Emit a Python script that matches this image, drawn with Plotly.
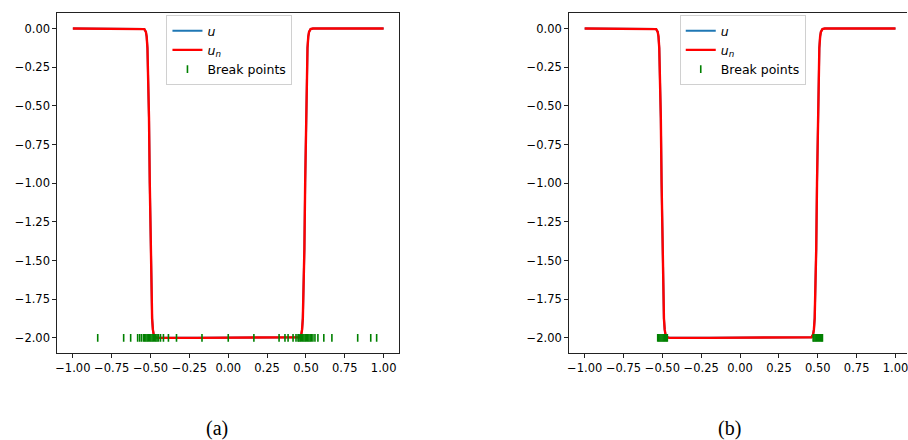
import plotly.graph_objects as go

# Sample grid and the exact solution u (steep double step between -0.5 and 0.5)
x_grid = [-1.0, -0.8, -0.6, -0.555, -0.54, -0.53, -0.525, -0.52, -0.515, -0.51,
          -0.505, -0.50, -0.495, -0.49, -0.485, -0.48, -0.47, -0.455, -0.2, 0.0,
          0.2, 0.445, 0.46, 0.47, 0.475, 0.48, 0.485, 0.49, 0.495, 0.50, 0.505,
          0.51, 0.515, 0.52, 0.53, 0.545, 0.6, 0.8, 1.0]
u_vals = [0.0, 0.0, 0.0, 0.0, -0.004, -0.022, -0.053, -0.126, -0.284, -0.578,
          -1.000, -1.422, -1.716, -1.874, -1.947, -1.978, -1.996, -2.0, -2.0, -2.0,
          -2.0, -2.0, -1.996, -1.978, -1.947, -1.874, -1.716, -1.422, -1.000, -0.578, -0.284,
          -0.126, -0.053, -0.022, -0.004, 0.0, 0.0, 0.0, 0.0]
# Network approximation u_n (indistinguishable from u at this scale)
un_vals = [0.0, 0.0, 0.0, 0.0, -0.004, -0.022, -0.053, -0.126, -0.284, -0.578,
           -1.000, -1.422, -1.716, -1.874, -1.947, -1.978, -1.996, -2.0, -2.0, -2.0,
           -2.0, -2.0, -1.996, -1.978, -1.947, -1.874, -1.716, -1.422, -1.000, -0.578, -0.284,
           -0.126, -0.053, -0.022, -0.004, 0.0, 0.0, 0.0, 0.0]

# Break points of the piecewise-linear network, panel (a)
breaks_a = [-0.840, -0.673, -0.628, -0.583, -0.570, -0.558,
            -0.545, -0.538, -0.530, -0.522, -0.514, -0.506, -0.498, -0.490,
            -0.482, -0.474, -0.466, -0.458, -0.449,
            -0.436, -0.417, -0.385, -0.333, -0.169, 0.0, 0.165, 0.327,
            0.365, 0.385, 0.417, 0.436, 0.449,
            0.455, 0.463, 0.471, 0.479, 0.487, 0.495, 0.503, 0.511, 0.519,
            0.527, 0.535, 0.545,
            0.558, 0.577, 0.615, 0.667, 0.833, 0.917, 0.955]
# Break points, panel (b): clustered at the two jumps
breaks_b = [-0.530, -0.523, -0.516, -0.509, -0.502, -0.495, -0.488, -0.481,
            -0.474, -0.468,
            0.470, 0.476, 0.483, 0.490, 0.497, 0.504, 0.511, 0.518, 0.525, 0.530]

x_ticks = [-1.0, -0.75, -0.5, -0.25, 0.0, 0.25, 0.5, 0.75, 1.0]
y_ticks = [0.0, -0.25, -0.5, -0.75, -1.0, -1.25, -1.5, -1.75, -2.0]
captions = ["(a)", "(b)"]

W, H = 908, 440
BLUE = "#1f77b4"
RED = "#ff0000"
GREEN = "#008000"
tick_font = dict(family="DejaVu Sans", size=11.5, color="#000")
legend_font = dict(family="DejaVu Sans", size=12.5, color="#000")

fig = go.Figure()

panels = [("x", "y", "legend", breaks_a), ("x2", "y2", "legend2", breaks_b)]
for xa, ya, lg, brk in panels:
    fig.add_trace(go.Scatter(x=x_grid, y=u_vals, mode="lines", name="<i>u</i>",
                             line=dict(color=BLUE, width=2), xaxis=xa, yaxis=ya,
                             legend=lg))
    fig.add_trace(go.Scatter(x=x_grid, y=un_vals, mode="lines",
                             name="<i>u<sub>n</sub></i>",
                             line=dict(color=RED, width=2.4), xaxis=xa, yaxis=ya,
                             legend=lg))
    fig.add_trace(go.Scatter(x=brk, y=[-2.0] * len(brk), mode="markers",
                             name="Break points",
                             marker=dict(symbol="line-ns", size=5.5,
                                         line=dict(color=GREEN, width=1.6)),
                             xaxis=xa, yaxis=ya, legend=lg))

axis_common = dict(showgrid=False, zeroline=False, showline=True, linecolor="#222",
                   linewidth=1, ticks="outside", ticklen=4, tickcolor="#222",
                   tickfont=tick_font, tickformat=".2f")

y_dom = [86.7 / H, (H - 13) / H]
legend_common = dict(xanchor="left", yanchor="top", bgcolor="white",
                     bordercolor="#d0d0d0", borderwidth=1, font=legend_font,
                     itemwidth=30, tracegroupgap=0)
fig.update_layout(
    width=W, height=H,
    margin=dict(l=0, r=0, t=0, b=0),
    paper_bgcolor="white", plot_bgcolor="white",
    xaxis=dict(domain=[55.5 / W, 398.5 / W], range=[-1.1, 1.1], tickvals=x_ticks,
               mirror=True, anchor="y", **axis_common),
    yaxis=dict(domain=y_dom, range=[-2.1, 0.1], tickvals=y_ticks, mirror=True,
               anchor="x", **axis_common),
    xaxis2=dict(domain=[569 / W, 1.0], range=[-1.1, 1.074], tickvals=x_ticks,
                mirror=True, anchor="y2", ticklabeloverflow="allow",
                **axis_common),
    yaxis2=dict(domain=y_dom, range=[-2.1, 0.1], tickvals=y_ticks, mirror=False,
                anchor="x2", **axis_common),
    legend=dict(x=165 / W, y=(H - 15) / H, **legend_common),
    legend2=dict(x=680 / W, y=(H - 15) / H, **legend_common),
    showlegend=True,
)

for txt, cx in zip(captions, [216, 730]):
    fig.add_annotation(text=txt, x=cx / W, y=(H - 428) / H, xref="paper", yref="paper",
                       showarrow=False, xanchor="center", yanchor="middle",
                       font=dict(family="Liberation Serif", size=20, color="#000"))

fig.write_html("out.html")
